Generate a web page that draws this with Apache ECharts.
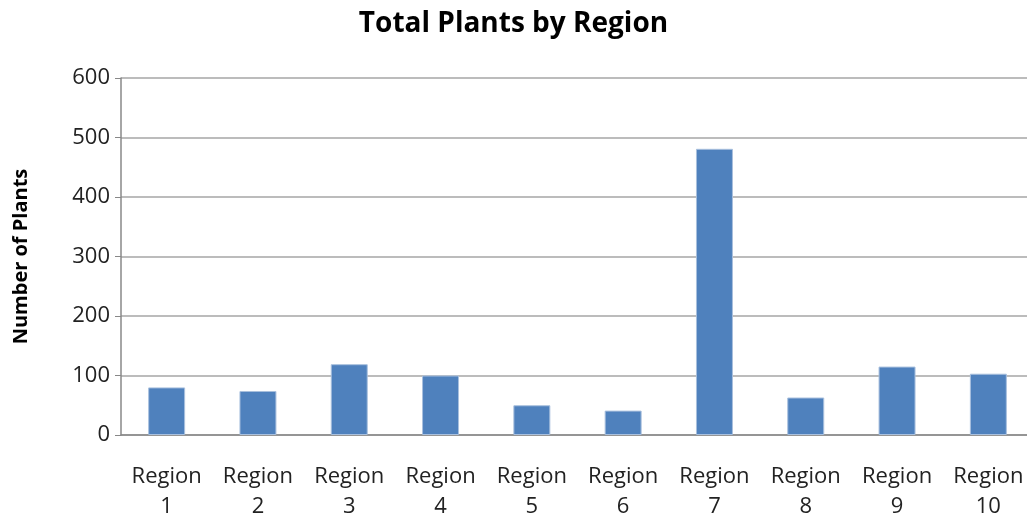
<!DOCTYPE html>
<html>
<head>
<meta charset="utf-8">
<script src="https://cdn.jsdelivr.net/npm/echarts@6/dist/echarts.min.js"></script>
<style>
  html, body { margin: 0; padding: 0; background: #fff; }
  #chart { width: 1027px; height: 523px; }
</style>
</head>
<body>
<div id="chart"></div>
<script>
// 类目和数据
var regions = ['Region\n1', 'Region\n2', 'Region\n3', 'Region\n4', 'Region\n5',
               'Region\n6', 'Region\n7', 'Region\n8', 'Region\n9', 'Region\n10'];
var plants = [80, 74, 119, 100, 50, 41, 481, 63, 115, 103];

var myChart = echarts.init(document.getElementById('chart'));
var font = '"Open Sans", "Liberation Sans", sans-serif';
var option = {
  animation: false,
  title: {
    text: 'Total Plants by Region',
    left: 'center',
    top: 5,
    textStyle: { fontFamily: font, fontWeight: 'bold', fontSize: 28, color: '#000' }
  },
  grid: { left: 121, right: -7, top: 78, bottom: 88, outerBoundsMode: 'none', containLabel: false },
  xAxis: {
    type: 'category',
    data: regions,
    axisTick: { show: false },
    axisLine: { lineStyle: { color: '#888', width: 1.5 } },
    axisLabel: {
      interval: 0, hideOverlap: false,
      color: '#222', fontFamily: font, fontSize: 22, lineHeight: 30, margin: 27
    }
  },
  yAxis: {
    type: 'value',
    min: 0, max: 600, interval: 100,
    name: 'Number of Plants',
    nameLocation: 'middle',
    nameGap: 90,
    nameTextStyle: { fontFamily: font, fontWeight: 'bold', fontSize: 20, color: '#000' },
    axisLine: { show: true, lineStyle: { color: '#888', width: 1.5 } },
    axisTick: { show: true, length: 6, inside: false, lineStyle: { color: '#888' } },
    splitLine: { lineStyle: { color: '#a6a6a6', width: 1.5 } },
    axisLabel: { color: '#222', fontFamily: font, fontSize: 22, margin: 11 }
  },
  series: [{
    type: 'bar',
    data: plants,
    barWidth: '40.5%',
    itemStyle: { color: '#4f81bd', borderColor: '#a9c0de', borderWidth: 1 }
  }]
};
myChart.setOption(option);
window.addEventListener('resize', function () {
  myChart.resize();
});
</script>
</body>
</html>
